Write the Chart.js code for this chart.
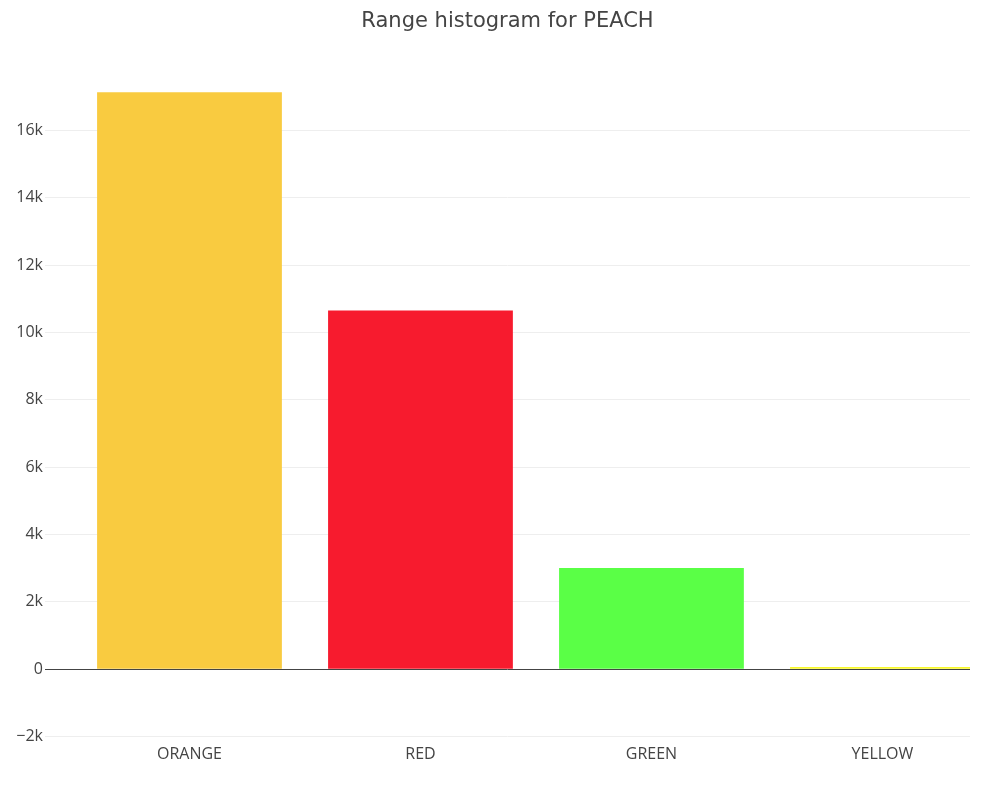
<!DOCTYPE html>
<html lang="en">
<head>
  <meta charset="UTF-8">
  <title>Range histogram for PEACH</title>
  <script src="https://cdn.jsdelivr.net/npm/chart.js"></script>
  <style>
    html, body { margin: 0; padding: 0; background: #fff; }
    #wrap { width: 1000px; height: 788px; }
  </style>
</head>
<body>
  <div id="wrap"><canvas id="myChart" width="1000" height="788"></canvas></div>

  <script>
    // 데이터
    const categories = ['ORANGE', 'RED', 'GREEN', 'YELLOW'];
    const counts = [17130, 10650, 3010, 70];
    const barColors = ['#f9cb40', '#f71b2e', '#5aff46', '#f8f82a'];
    const tickValues = [-2000, 0, 2000, 4000, 6000, 8000, 10000, 12000, 14000, 16000];
    const titleText = 'Range histogram for PEACH';

    function fmtK(v) {
      if (v === 0) return '0';
      const s = Math.abs(v / 1000) + 'k';
      return v < 0 ? '\u2212' + s : s;
    }

    // 제목은 플롯 영역 가운데에 그림
    const titlePlugin = {
      id: 'plotTitle',
      afterDraw(chart) {
        const c = chart.ctx;
        const area = chart.chartArea;
        c.save();
        c.fillStyle = '#444';
        c.font = '21px "DejaVu Sans"';
        c.textAlign = 'center';
        c.textBaseline = 'middle';
        c.fillText(titleText, (area.left + area.right) / 2, 22);
        c.restore();
      }
    };

    const ctx = document.getElementById('myChart').getContext('2d');
    const myChart = new Chart(ctx, {
      type: 'bar',
      data: {
        datasets: [{
          label: 'count',
          data: counts.map((v, i) => ({ x: i, y: v })),
          backgroundColor: barColors,
          borderWidth: 0,
          categoryPercentage: 0.8,
          barPercentage: 1.0
        }]
      },
      plugins: [titlePlugin],
      options: {
        responsive: false,
        animation: false,
        layout: { padding: { left: 0, right: 30, top: 63, bottom: 0 } },
        plugins: {
          legend: { display: false },
          tooltip: { enabled: false },
          title: { display: false }
        },
        scales: {
          x: {
            type: 'linear',
            offset: false,
            min: -0.6255,
            max: 3.379,
            grid: { display: false, drawTicks: false },
            border: { display: false },
            afterBuildTicks: function (scale) {
              scale.ticks = categories.map((c, i) => ({ value: i }));
            },
            ticks: {
              color: '#444',
              font: { family: 'Open Sans', size: 16 },
              padding: 5,
              callback: v => categories[v]
            },
            afterFit: function (scale) { scale.height = 48; }
          },
          y: {
            min: -2100,
            max: 18000,
            border: { display: false },
            afterBuildTicks: function (scale) {
              scale.ticks = tickValues.map(v => ({ value: v }));
            },
            grid: {
              drawTicks: false,
              color: c => (c.tick && c.tick.value === 0) ? '#444' : '#eee',
              lineWidth: 1
            },
            ticks: {
              color: '#444',
              font: { family: 'Open Sans', size: 16 },
              padding: 2,
              callback: v => fmtK(v)
            },
            afterFit: function (scale) { scale.width = 45; }
          }
        }
      }
    });
  </script>
</body>
</html>
